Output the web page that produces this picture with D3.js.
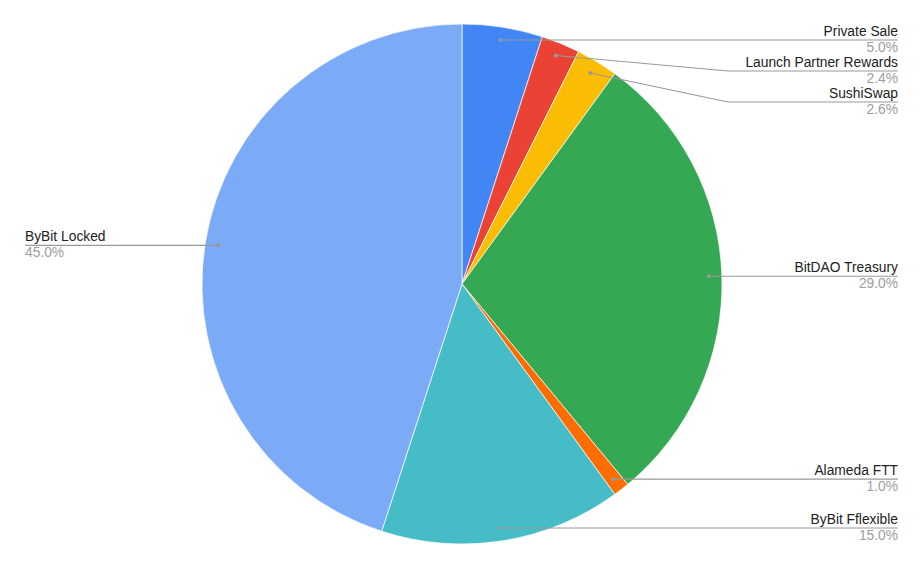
<!DOCTYPE html>
<html><head><meta charset="utf-8">
<script src="https://cdn.jsdelivr.net/npm/d3@7"></script>
<style>body{margin:0;background:#fff}svg{display:block}</style>
</head><body><div id="chart"></div>
<script>
const categories = ["Private Sale","Launch Partner Rewards","SushiSwap","BitDAO Treasury","Alameda FTT","ByBit Fflexible","ByBit Locked"];
const values = [5.0, 2.4, 2.6, 29.0, 1.0, 15.0, 45.0];
const colors = ["#4285F4","#EA4335","#FBBC04","#34A853","#FF6D01","#46BDC6","#7BAAF7"];

const W = 924, H = 569, cx = 462, cy = 284, R = 260;
const svg = d3.select("#chart").append("svg").attr("width", W).attr("height", H);
const g = svg.append("g").attr("transform", `translate(${cx},${cy})`);

const data = categories.map((c,i)=>({name:c, value:values[i], color:colors[i]}));
const pie = d3.pie().value(d=>d.value).sort(null);
const arcs = pie(data);
const arc = d3.arc().innerRadius(0).outerRadius(R);

g.selectAll("path").data(arcs).join("path")
  .attr("d", arc).attr("fill", d=>d.data.color)
  .attr("stroke","#fff").attr("stroke-width",0.7);

const fmt = d3.format(".1f");
const dotR = R*0.95;
const items = arcs.map(a=>{
  const m = (a.startAngle+a.endAngle)/2;
  const x = dotR*Math.sin(m), y = -dotR*Math.cos(m);
  return {a, x, y, side: x>=0 ? 1 : -1, ly: y};
});
[1,-1].forEach(s=>{
  const list = items.filter(d=>d.side===s).sort((p,q)=>p.y-q.y);
  let prev = -Infinity;
  list.forEach(d=>{ d.ly = Math.max(d.y, prev+31); prev = d.ly; });
});

const font = "Arial, 'Liberation Sans', sans-serif";
const lab = g.append("g");
items.forEach(d=>{
  const elbowX = d.side>0 ? 266 : -266;
  const endX = d.side>0 ? 436 : -437;
  lab.append("polyline")
    .attr("points", `${d.x},${d.y} ${elbowX},${d.ly} ${endX},${d.ly}`)
    .attr("fill","none").attr("stroke","#999").attr("stroke-width",1.1);
  lab.append("circle").attr("cx",d.x).attr("cy",d.y).attr("r",2).attr("fill","#999");
  const anchor = d.side>0 ? "end" : "start";
  lab.append("text").attr("x",endX).attr("y",d.ly-4)
    .attr("text-anchor",anchor).attr("font-family",font)
    .attr("font-size",13.8).attr("fill","#222").text(d.a.data.name);
  lab.append("text").attr("x",endX).attr("y",d.ly+12)
    .attr("text-anchor",anchor).attr("font-family",font)
    .attr("font-size",13.8).attr("fill","#9e9e9e").text(fmt(d.a.data.value)+"%");
});
</script></body></html>
